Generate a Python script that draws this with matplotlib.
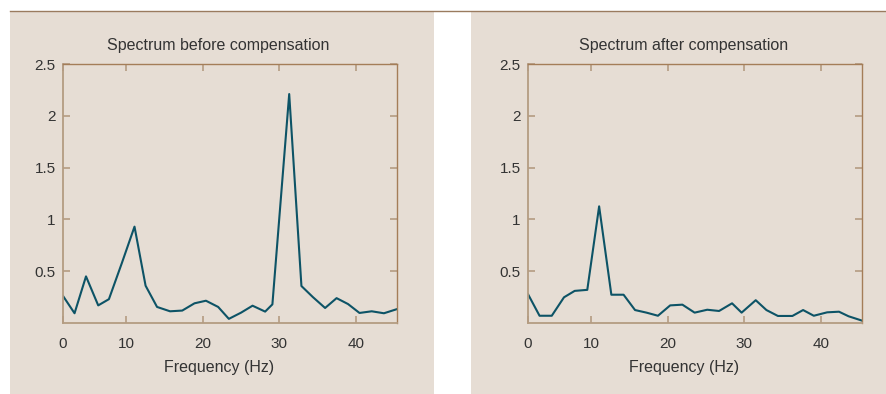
import matplotlib.pyplot as plt
from matplotlib.patches import Rectangle
from matplotlib.lines import Line2D

plt.rcParams['font.family'] = ['Liberation Sans', 'DejaVu Sans']

# Spectra (frequency in Hz, amplitude)
freq_before = [1.7, 3.2, 4.7, 6.3, 7.7, 9.4, 11.05, 12.5, 14.0, 15.7, 17.3, 18.9, 20.4,
               22.0, 23.4, 25.0, 26.5, 28.15, 29.1, 31.3, 32.9, 34.4, 36.0, 37.5, 39.0,
               40.5, 42.1, 43.7, 45.45]
amp_before = [0.26, 0.094, 0.45, 0.17, 0.23, 0.58, 0.93, 0.36, 0.155, 0.113, 0.12, 0.19,
              0.215, 0.155, 0.04, 0.10, 0.167, 0.11, 0.18, 2.21, 0.357, 0.25, 0.145, 0.24,
              0.183, 0.097, 0.113, 0.094, 0.135]

freq_after = [1.7, 3.2, 4.8, 6.4, 7.8, 9.45, 11.0, 12.6, 14.2, 15.7, 17.2, 18.7, 20.3,
              21.9, 23.5, 25.15, 26.7, 28.4, 29.65, 31.5, 32.9, 34.4, 36.3, 37.7, 39.1,
              40.85, 42.4, 43.65, 45.45]
amp_after = [0.277, 0.07, 0.07, 0.248, 0.31, 0.32, 1.126, 0.273, 0.273, 0.125, 0.10, 0.07,
             0.17, 0.177, 0.10, 0.128, 0.116, 0.19, 0.10, 0.22, 0.125, 0.068, 0.068, 0.125,
             0.07, 0.103, 0.109, 0.065, 0.022]

titles = ['Spectrum before compensation', 'Spectrum after compensation']
x_ticks = [10, 20, 30, 40]
x_tick_labels = ['0', '10', '20', '30', '40']
y_ticks = [0.5, 1, 1.5, 2, 2.5]
y_tick_labels = ['0.5', '1', '1.5', '2', '2.5']
x_range = (1.65, 45.45)

W, H = 886, 394
beige = '#e6ddd4'
line_col = '#0d5366'
spine_light = '#b49c82'
spine_dark = '#a47d58'
text_col = '#333333'

fig = plt.figure(figsize=(W / 100, H / 100), dpi=100)
fig.patch.set_facecolor('white')

# beige panels and the rule across the top
for x0, x1 in [(10, 434), (471, 886)]:
    fig.add_artist(Rectangle((x0 / W, 0), (x1 - x0) / W, (H - 12) / H,
                             transform=fig.transFigure, facecolor=beige,
                             edgecolor='none', zorder=0))
fig.add_artist(Line2D([10 / W, 1], [1 - 11 / H] * 2, transform=fig.transFigure,
                      color='#9a7b5f', linewidth=1.0, zorder=1))

panels = [(62.7, freq_before, amp_before), (527.7, freq_after, amp_after)]
for (left_px, f, a), title in zip(panels, titles):
    ax = fig.add_axes([left_px / W, 71 / H, 334.6 / W, 259 / H])
    ax.set_facecolor('none')
    ax.plot(f, a, color=line_col, linewidth=1.5)

    ax.set_xlim(*x_range)
    ax.set_ylim(0, 2.5)
    ax.set_xticks([x_range[0]] + x_ticks)
    ax.set_xticklabels(x_tick_labels)
    ax.set_yticks(y_ticks)
    ax.set_yticklabels(y_tick_labels)

    for side in ['left', 'bottom']:
        ax.spines[side].set_color(spine_light)
        ax.spines[side].set_linewidth(1.3)
    for side in ['right', 'top']:
        ax.spines[side].set_color(spine_dark)
        ax.spines[side].set_linewidth(1.0)

    ax.tick_params(direction='in', length=5, width=1.2, color=spine_light,
                   top=True, right=True, labelsize=11, labelcolor=text_col)
    ax.tick_params(axis='x', pad=10)
    ax.tick_params(axis='y', pad=5)

    ax.text(0.466, 1.073, title, transform=ax.transAxes, ha='center', va='center',
            fontsize=11.5, color=text_col)
    ax.set_xlabel('Frequency (Hz)', fontsize=11.5, color=text_col)
    ax.xaxis.set_label_coords(0.466, -0.17)
    ax.xaxis.label.set_va('center')

fig.savefig('out.png', dpi=100)
